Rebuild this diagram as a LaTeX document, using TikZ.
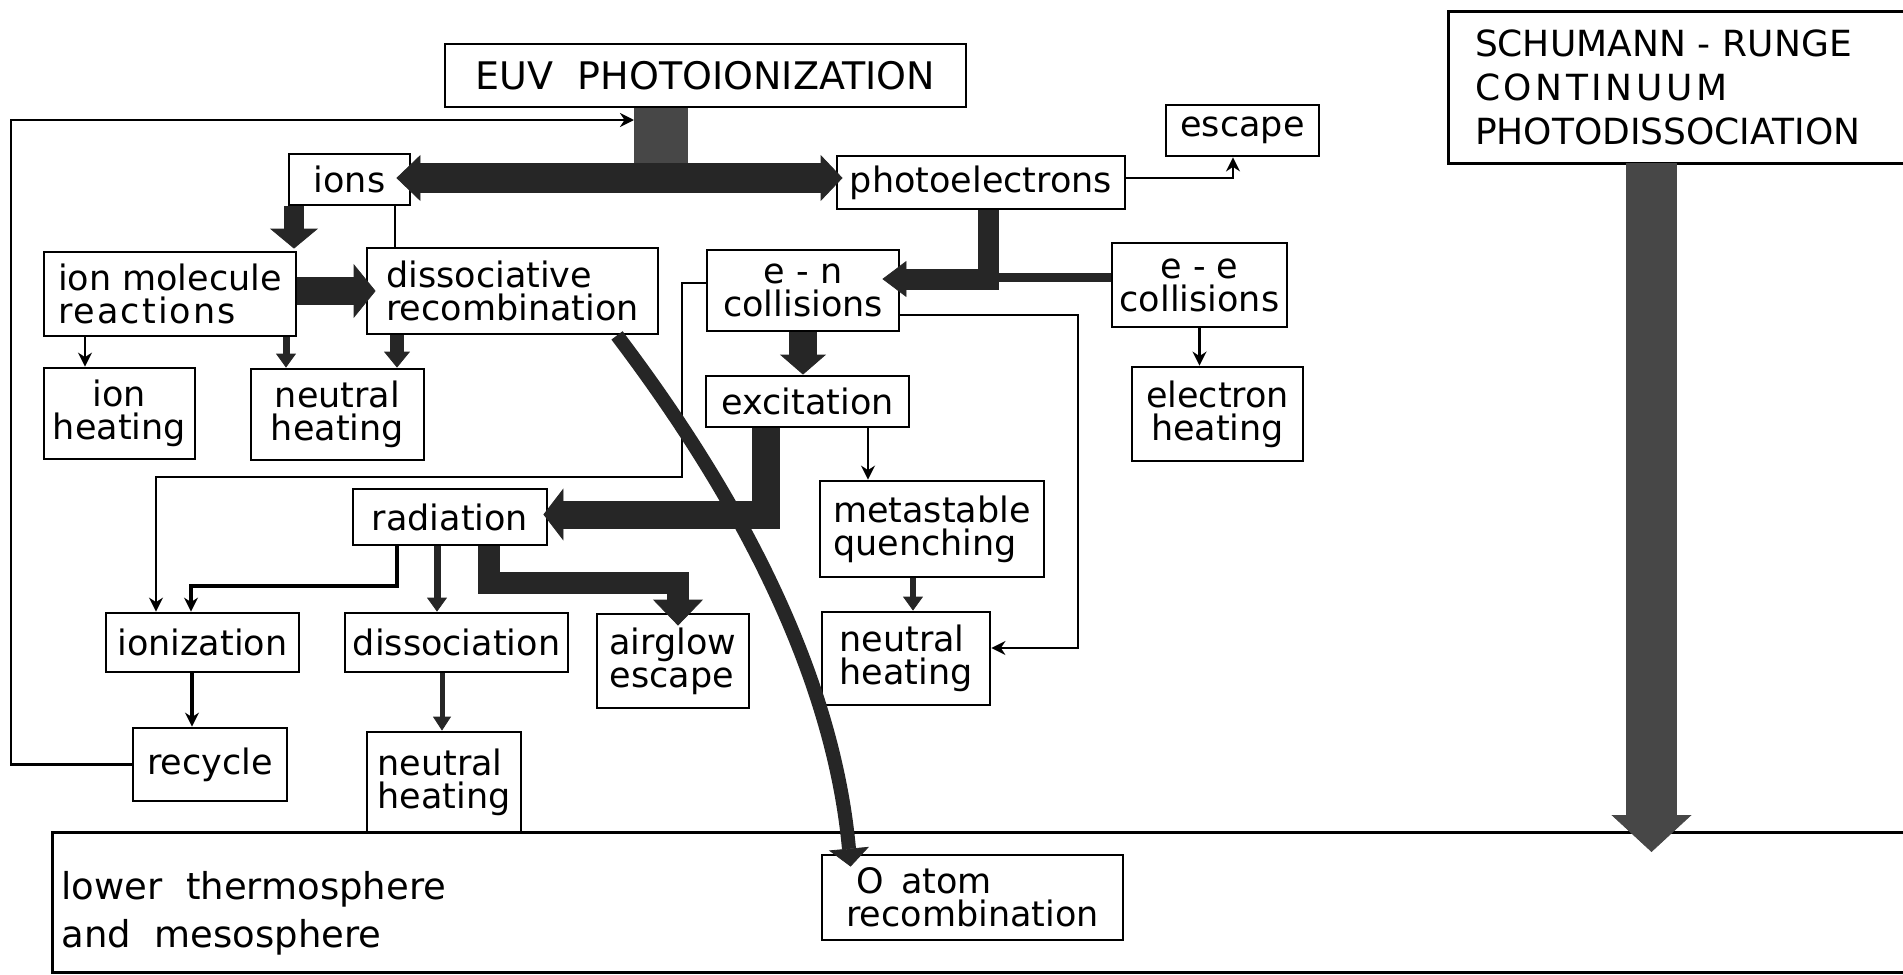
\documentclass[tikz,border=0pt]{standalone}
\usepackage{fontspec}
\setmainfont{DejaVu Sans}
\usetikzlibrary{arrows.meta,calc}
\newcommand\lbl{\fontsize{17.5}{16.5}\selectfont}
\newcommand\capsfont{\fontsize{19}{22}\selectfont}
\newcommand\srfont{\fontsize{18}{22}\selectfont}
\newcommand\ltfont{\fontsize{18.5}{24}\selectfont}
\begin{document}
\begin{tikzpicture}[x=0.5pt,y=-0.5pt,
  bx/.style={draw,line width=1.4pt,inner sep=0pt,font=\lbl,align=center},
  ln/.style={line width=1.2pt},
  flow/.style={draw=black!85},
  bigflow/.style={draw=black!72},
  >={Stealth[length=7pt,width=7pt]}]
\useasboundingbox (0,0) rectangle (1903,975);

% ---------- boxes ----------
\node[bx,minimum width=260.5pt,minimum height=31.5pt,font=\capsfont] (euv) at (705.5,75.5) {EUV\ \ PHOTOIONIZATION};
\node[bx,minimum width=60.5pt,minimum height=25.5pt] (ions) at (349.5,179.5) {ions};
\node[bx,minimum width=144pt,minimum height=26.5pt] (photo) at (981,182.5) {photoelectrons};
\node[bx,minimum width=76.5pt,minimum height=25.5pt] (escape) at (1242.5,130.5) {escape};
\node[bx,minimum width=126pt,minimum height=42pt,align=left] (ionmol) at (170,294) {ion molecule\\{\addfontfeatures{LetterSpace=6}reactions}};
\node[bx,minimum width=145.5pt,minimum height=43pt,align=left] (dissrec) at (512.5,291) {dissociative\\recombination};
\node[bx,minimum width=96pt,minimum height=40.5pt] (en) at (803,290.5) {e - n\\collisions};
\node[bx,minimum width=87.5pt,minimum height=42pt] (ee) at (1199.5,285) {e - e\\collisions};
\node[bx,minimum width=75.5pt,minimum height=45.5pt] (ionheat) at (119.5,413.5) {ion\\heating};
\node[bx,minimum width=86.5pt,minimum height=45.5pt] (nheat1) at (337.5,414.5) {neutral\\heating};
\node[bx,minimum width=85.5pt,minimum height=47pt] (eheat) at (1217.5,414) {electron\\heating};
\node[bx,minimum width=101.5pt,minimum height=25.5pt] (excit) at (807.5,401.5) {excitation};
\node[bx,minimum width=97pt,minimum height=28pt] (rad) at (450,517) {radiation};
\node[bx,minimum width=112pt,minimum height=48pt,align=left] (metast) at (932,529) {metastable\\quenching};
\node[bx,minimum width=84pt,minimum height=46.5pt,align=left] (nheat2) at (906,658.5) {neutral\\heating};
\node[bx,minimum width=76pt,minimum height=47pt,align=left] (airglow) at (673,661) {airglow\\escape};
\node[bx,minimum width=96.5pt,minimum height=29.5pt] (ioniz) at (202.5,642.5) {ionization};
\node[bx,minimum width=111.5pt,minimum height=29.5pt] (dissoc) at (456.5,642.5) {dissociation};
\node[bx,minimum width=77pt,minimum height=36.5pt] (recycle) at (210,764.5) {recycle};
\node[bx,minimum width=77pt,minimum height=50.5pt,align=left] (nheat3) at (444,782.5) {neutral\\heating};
\node[bx,minimum width=150.5pt,minimum height=42.5pt,align=left] (oatom) at (972.5,897.5) {\hspace{5pt}O\enspace atom\\recombination};

% Schumann-Runge box (open to the right)
\node[inner sep=0pt,minimum width=227pt,minimum height=75.5pt,text width=201pt,align=left,font=\srfont] (sr) at (1676,87.5)
  {SCHUMANN - RUNGE\\{\addfontfeatures{LetterSpace=10}CONTINUUM}\\PHOTODISSOCIATION};
\draw[line width=1.4pt] (sr.north east) -- (sr.north west) -- (sr.south west) -- (sr.south east);

% lower thermosphere box (open to the right)
\node[inner sep=0pt,minimum width=925pt,minimum height=69.5pt] (lt) at (978,902.5) {};
\draw[line width=1.6pt] (lt.north east) -- (lt.north west) -- (lt.south west) -- (lt.south east);
\node[inner sep=0pt,anchor=north west,align=left,font=\ltfont] (lttext) at (61,871) {lower\ \ thermosphere\\and\ \ mesosphere};

% ---------- connectors ----------
% recycle loop back to EUV
\coordinate (loopL) at (11,120);
\coordinate (barL) at (634,120);
\draw[ln,->] (recycle.west) -| (loopL) -- (barL);

% EUV main bar
\coordinate (barx) at (661,193);
\draw[bigflow,line width=27pt] (euv.south -| barx) -- (barx);

% ions <-> photoelectrons
\coordinate (hy) at (0,178);
\draw[flow,line width=15pt,{Triangle[width=23pt,length=12pt,line width=0.4pt]}-{Triangle[width=23pt,length=11pt,line width=0.4pt]}]
  ($(ions.east |- hy)+(-15,0)$) -- ($(photo.west |- hy)+(7,0)$);

% ions -> ion molecule reactions
\coordinate (ax1) at (294,0);
\draw[flow,line width=10pt,-{Triangle[width=24pt,length=10pt,line width=0.4pt]}] (ions.south -| ax1) -- ($(ionmol.north -| ax1)+(0,-2)$);
% ions -- dissociative recombination
\coordinate (ax2) at (395,0);
\draw[ln] (ions.south -| ax2) -- (dissrec.north -| ax2);
% ion molecule -> dissociative recombination
\draw[flow,line width=14pt,-{Triangle[width=27pt,length=11pt,line width=0.4pt]}] (ionmol.east |- dissrec.west) -- ($(dissrec.west)+(10,0)$);

% to heating boxes
\coordinate (ax3) at (85,0);
\coordinate (ax4) at (286,0);
\coordinate (ax5) at (397,0);
\draw[ln,->] (ionmol.south -| ax3) -- (ionheat.north -| ax3);
\draw[flow,line width=3.5pt,-{Triangle[width=10pt,length=7pt,line width=0.4pt]}] (ionmol.south -| ax4) -- (nheat1.north -| ax4);
\draw[flow,line width=7pt,-{Triangle[width=13pt,length=8pt,line width=0.4pt]}] (dissrec.south -| ax5) -- (nheat1.north -| ax5);

% photoelectrons -> e-n / e-e collisions
\coordinate (jx) at (988,279);
\draw[flow,line width=10.5pt,-{Triangle[width=18pt,length=12pt,line width=0.4pt]}] (photo.south -| jx) |- ($(en.east |- jx)+(-18,0)$);
\coordinate (jy) at (988,277.5);
\draw[flow,line width=4.5pt] (jy) -- (ee.west |- jy);

% photoelectrons -> escape
\coordinate (ex) at (1233,178);
\draw[ln,->] (photo.east |- ex) -- (ex) -- (escape.south -| ex);

% e-n -> excitation
\draw[flow,line width=14pt,-{Triangle[width=23pt,length=10pt,line width=0.4pt]}] (en.south) -- (en.south |- excit.north);

% e-e -> electron heating
\draw[ln,->] (ee.south) -- (ee.south |- eheat.north);

% e-n -> neutral heating (2)
\coordinate (r1) at (1078,315);
\coordinate (r2) at (1078,648);
\draw[ln,->] (en.east |- r1) -- (r1) -- (r2) -- (nheat2.east |- r2);

% e-n -> ionization
\coordinate (l1) at (682,283);
\coordinate (l2) at (682,477);
\coordinate (l3) at (156,477);
\draw[ln,->] (en.west |- l1) -- (l1) -- (l2) -- (l3) -- (ioniz.north -| l3);

% excitation -> radiation
\coordinate (kx) at (766,514.5);
\draw[flow,line width=14pt,-{Triangle[width=26pt,length=10pt,line width=0.4pt]}] (excit.south -| kx) |- ($(rad.east |- kx)+(-5,0)$);

% excitation -> metastable quenching
\coordinate (mx) at (868,0);
\draw[ln,->] (excit.south -| mx) -- (metast.north -| mx);

% metastable -> neutral heating (2)
\coordinate (qx) at (913,0);
\draw[flow,line width=3pt,-{Triangle[width=10pt,length=7pt,line width=0.4pt]}] (metast.south -| qx) -- (nheat2.north -| qx);

% radiation -> ionization
\coordinate (s1) at (397,586);
\coordinate (s2) at (191,586);
\draw[line width=1.6pt,->] (rad.south -| s1) -- (s1) -- (s2) -- (ioniz.north -| s2);

% radiation -> dissociation
\coordinate (dx) at (437,0);
\draw[flow,line width=3.5pt,-{Triangle[width=10pt,length=7pt,line width=0.4pt]}] (rad.south -| dx) -- (dissoc.north -| dx);

% radiation -> airglow escape
\coordinate (g1) at (489,582.5);
\coordinate (g2) at (678,582.5);
\draw[flow,line width=11pt,-{Triangle[width=25pt,length=13pt,line width=0.4pt]}] (rad.south -| g1) -- (g1) -- (g2) -- ($(airglow.north -| g2)+(0,13)$);

% ionization -> recycle
\coordinate (cx) at (192,0);
\draw[line width=1.6pt,->] (ioniz.south -| cx) -- (recycle.north -| cx);

% dissociation -> neutral heating (3)
\coordinate (nx) at (442,0);
\draw[flow,line width=2.5pt,-{Triangle[width=9pt,length=7pt,line width=0.4pt]}] (dissoc.south -| nx) -- (nheat3.north -| nx);

% dissociative recombination -> O atom recombination
\coordinate (o1) at (617,0);
\draw[flow,line width=7pt,-{Triangle[width=20pt,length=9pt,line width=0.4pt]}] (dissrec.south -| o1) .. controls (700,445) and (830,640) .. ($(oatom.north west)+(30,13)$);

% Schumann-Runge photodissociation -> lower thermosphere
\coordinate (srx) at (1651.5,0);
\coordinate (srtip) at (1651.5,852);
\draw[bigflow,line width=25.5pt,-{Triangle[width=40pt,length=18.5pt,line width=0.4pt]}] (sr.south -| srx) -- (srtip);
\end{tikzpicture}
\end{document}
